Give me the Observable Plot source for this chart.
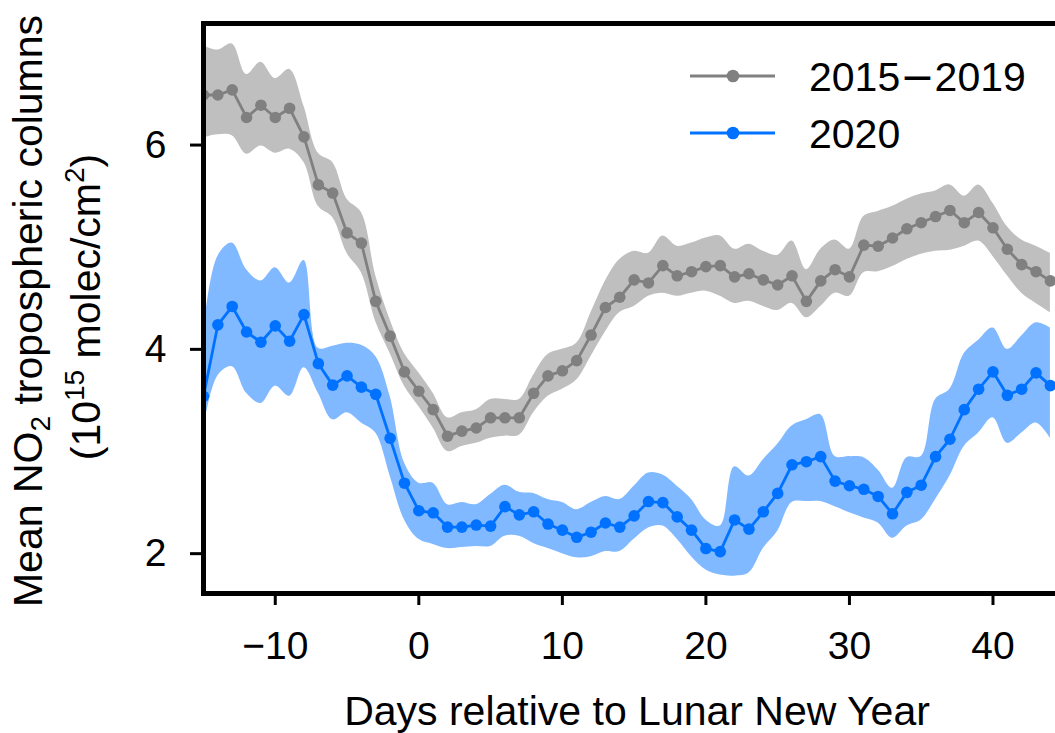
<!DOCTYPE html>
<html>
<head>
<meta charset="utf-8">
<script src="https://cdn.jsdelivr.net/npm/d3@7"></script>
<script src="https://cdn.jsdelivr.net/npm/@observablehq/plot@0.6"></script>
<style>
  html, body { margin: 0; padding: 0; background: #fff; overflow: hidden; }
  #chart { position: relative; width: 1055px; height: 733px; overflow: hidden; }
  #chart svg { max-width: none !important; font-family: "Liberation Sans", Arial, sans-serif; }
</style>
</head>
<body>
<div id="chart"></div>
<script>
// Days relative to Lunar New Year
const days = [-15,-14,-13,-12,-11,-10,-9,-8,-7,-6,-5,-4,-3,-2,-1,0,1,2,3,4,5,6,7,8,9,10,11,12,13,14,15,16,17,18,19,20,21,22,23,24,25,26,27,28,29,30,31,32,33,34,35,36,37,38,39,40,41,42,43,44];

// 2015-2019 mean and band
const base_mean = [6.49,6.49,6.54,6.27,6.39,6.27,6.36,6.08,5.61,5.53,5.14,5.04,4.47,4.13,3.78,3.59,3.41,3.15,3.20,3.23,3.33,3.33,3.33,3.57,3.74,3.79,3.89,4.14,4.41,4.51,4.68,4.65,4.82,4.72,4.76,4.81,4.82,4.71,4.74,4.68,4.63,4.72,4.47,4.67,4.78,4.71,5.02,5.01,5.09,5.18,5.24,5.30,5.36,5.24,5.34,5.19,4.98,4.83,4.76,4.67];
const base_upper = [6.97,6.93,6.99,6.69,6.81,6.65,6.74,6.38,5.92,5.83,5.47,5.34,4.72,4.29,3.96,3.77,3.57,3.33,3.38,3.41,3.51,3.51,3.51,3.75,3.95,4.00,4.06,4.36,4.67,4.88,4.96,4.94,5.11,5.01,5.04,5.09,5.11,4.98,5.03,4.96,4.92,5.06,4.78,4.98,5.07,4.98,5.30,5.35,5.40,5.47,5.52,5.55,5.61,5.50,5.61,5.43,5.20,5.07,5.01,4.94];
const base_lower = [6.07,6.10,6.09,5.91,5.99,5.92,5.96,5.83,5.40,5.29,4.94,4.75,4.27,3.96,3.64,3.44,3.23,3.00,3.05,3.08,3.13,3.15,3.16,3.38,3.54,3.61,3.70,3.93,4.17,4.36,4.42,4.52,4.55,4.52,4.55,4.57,4.52,4.45,4.47,4.42,4.38,4.45,4.31,4.42,4.55,4.52,4.75,4.76,4.81,4.88,4.93,4.96,4.97,5.01,5.06,4.91,4.72,4.55,4.45,4.36];

// 2020 mean and band
const y2020_mean = [3.54,4.24,4.42,4.17,4.07,4.23,4.08,4.34,3.86,3.65,3.74,3.63,3.56,3.13,2.69,2.42,2.40,2.26,2.26,2.28,2.27,2.46,2.38,2.41,2.29,2.23,2.16,2.21,2.30,2.26,2.37,2.51,2.50,2.36,2.23,2.05,2.02,2.33,2.24,2.41,2.59,2.87,2.90,2.95,2.71,2.665,2.63,2.56,2.39,2.60,2.67,2.95,3.12,3.41,3.61,3.78,3.55,3.61,3.77,3.645];
const y2020_upper = [4.16,4.91,5.04,4.78,4.67,4.80,4.65,4.87,4.01,4.03,4.06,4.04,3.93,3.54,2.89,2.69,2.69,2.48,2.50,2.48,2.58,2.67,2.60,2.59,2.53,2.50,2.43,2.50,2.56,2.53,2.66,2.79,2.77,2.66,2.53,2.33,2.27,2.85,2.76,2.92,3.07,3.25,3.31,3.36,2.95,2.95,2.94,2.82,2.64,2.94,2.95,3.51,3.61,3.96,4.09,4.21,4.00,4.13,4.26,4.21];
const y2020_lower = [3.21,3.74,3.83,3.57,3.47,3.64,3.54,3.82,3.57,3.31,3.38,3.28,3.18,2.76,2.33,2.14,2.09,2.05,2.06,2.07,2.07,2.17,2.17,2.10,2.05,2.00,1.96,1.97,2.02,2.02,2.14,2.25,2.27,2.14,1.97,1.84,1.79,1.78,1.81,2.05,2.22,2.50,2.51,2.51,2.46,2.40,2.35,2.30,2.15,2.27,2.33,2.53,2.76,3.05,3.18,3.33,3.08,3.18,3.28,3.13];

const xTicks = [-10, 0, 10, 20, 30, 40];
const yTicks = [2, 4, 6];
const seriesYears = [["2015", "2019"], ["2020"]];
const seriesColors = ["#808080", "#0072ff"];
const bandColors = ["#bfbfbf", "#80b9ff"];
const xLabel = "Days relative to Lunar New Year";

const baseRows = days.map((d, i) => ({day: d, mean: base_mean[i], lo: base_lower[i], hi: base_upper[i]}));
const newRows = days.map((d, i) => ({day: d, mean: y2020_mean[i], lo: y2020_lower[i], hi: y2020_upper[i]}));

const FS = 39;   // tick labels
const LFS = 41;  // axis labels, legend
const font = '"Liberation Sans", Arial, sans-serif';

const chart = Plot.plot({
  width: 1070,
  height: 733,
  marginLeft: 203,
  marginRight: 0,
  marginTop: 23,
  marginBottom: 140,
  style: {fontFamily: font, fontSize: FS + "px", color: "#000", background: "#fff"},
  x: {domain: [-15, 45.4]},
  y: {domain: [1.61, 7.19]},
  marks: [
    Plot.areaY(baseRows, {x: "day", y1: "lo", y2: "hi", fill: bandColors[0], curve: "catmull-rom", clip: true}),
    Plot.line(baseRows, {x: "day", y: "mean", stroke: seriesColors[0], strokeWidth: 2.8, clip: true}),
    Plot.dot(baseRows, {x: "day", y: "mean", fill: seriesColors[0], r: 5.8, clip: true}),
    Plot.areaY(newRows, {x: "day", y1: "lo", y2: "hi", fill: bandColors[1], curve: "catmull-rom", clip: true}),
    Plot.line(newRows, {x: "day", y: "mean", stroke: seriesColors[1], strokeWidth: 2.8, clip: true}),
    Plot.dot(newRows, {x: "day", y: "mean", fill: seriesColors[1], r: 5.8, clip: true}),
    Plot.axisX({ticks: xTicks, tickSize: 12, tickPadding: 26, fontSize: FS, strokeWidth: 3, label: null, tickFormat: "d"}),
    Plot.axisY({ticks: yTicks, tickSize: 13, tickPadding: 24, fontSize: FS, strokeWidth: 3, label: null, tickFormat: "d"}),
    Plot.frame({stroke: "#000", strokeWidth: 5})
  ]
});
document.getElementById("chart").appendChild(chart);

const svg = d3.select(chart);

// X axis label
svg.append("text")
  .attr("x", 637).attr("y", 725)
  .attr("text-anchor", "middle").attr("font-size", LFS).attr("font-family", font)
  .text(xLabel);

// Y axis label (two lines, rotated)
const yl1 = svg.append("text")
  .attr("transform", "translate(42,311) rotate(-90)")
  .attr("text-anchor", "middle").attr("font-size", LFS).attr("font-family", font);
yl1.append("tspan").text("Mean NO");
yl1.append("tspan").attr("font-size", 28).attr("dy", 8).text("2");
yl1.append("tspan").attr("dy", -8).text(" tropospheric columns");

const yl2 = svg.append("text")
  .attr("transform", "translate(100,307) rotate(-90)")
  .attr("text-anchor", "middle").attr("font-size", LFS).attr("font-family", font);
yl2.append("tspan").text("(10");
yl2.append("tspan").attr("font-size", 28).attr("dy", -16).text("15");
yl2.append("tspan").attr("dy", 16).text(" molec/cm");
yl2.append("tspan").attr("font-size", 28).attr("dy", -16).text("2");
yl2.append("tspan").attr("dy", 16).text(")");

// Legend
const legendY = [76, 133];
seriesYears.forEach((parts, i) => {
  const g = svg.append("g").attr("transform", `translate(0,${legendY[i]})`);
  g.append("line").attr("x1", 690).attr("x2", 775).attr("y1", 0).attr("y2", 0)
    .attr("stroke", seriesColors[i]).attr("stroke-width", 2.8);
  g.append("circle").attr("cx", 733).attr("cy", 0).attr("r", 6.3).attr("fill", seriesColors[i]);
  const t = g.append("text").attr("x", 809).attr("y", 0).attr("dy", "0.36em")
    .attr("text-anchor", "start").attr("font-size", LFS).attr("font-family", font);
  parts.forEach((p, k) => {
    if (k > 0) t.append("tspan").attr("font-family", '"DejaVu Sans", sans-serif').text("\u2212");
    t.append("tspan").text(p);
  });
});
</script>
</body>
</html>
